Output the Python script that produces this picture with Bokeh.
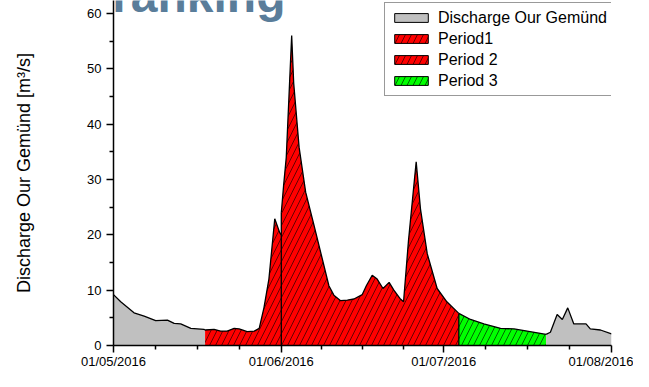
from datetime import datetime
import numpy as np
from bokeh.plotting import figure
from bokeh.models import (Range1d, FixedTicker, DatetimeTickFormatter, Legend,
                          LegendItem, Label, ColumnDataSource)
from bokeh.embed import file_html
from bokeh.resources import INLINE

# ---------------- data ----------------
base1_dates = ["2016-05-01 00:00", "2016-05-02 08:00", "2016-05-04 19:00", "2016-05-06 16:00",
               "2016-05-08 19:00", "2016-05-10 23:00", "2016-05-12 05:00", "2016-05-13 10:00",
               "2016-05-15 07:00", "2016-05-17 17:00", "2016-05-17 22:00"]
base1_vals = [9.2, 7.9, 5.9, 5.3, 4.5, 4.6, 4.0, 3.9, 3.1, 2.9, 2.8]

period1_dates = ["2016-05-17 22:00", "2016-05-19 14:00", "2016-05-20 19:00", "2016-05-22 00:00",
                 "2016-05-23 07:00", "2016-05-24 05:00", "2016-05-25 17:00", "2016-05-27 00:00",
                 "2016-05-27 22:00", "2016-05-28 19:00", "2016-05-29 17:00", "2016-05-30 19:00",
                 "2016-05-31 17:00", "2016-06-01 00:00"]
period1_vals = [2.8, 2.9, 2.6, 2.6, 3.1, 3.0, 2.5, 2.6, 3.1, 6.8, 12.0, 22.9, 20.4, 20.0]

period2_dates = ["2016-06-01 00:00", "2016-06-01 10:00", "2016-06-01 22:00", "2016-06-02 10:00",
                 "2016-06-02 22:00", "2016-06-03 07:00", "2016-06-04 07:00", "2016-06-05 12:00",
                 "2016-06-07 00:00", "2016-06-09 19:00", "2016-06-10 17:00", "2016-06-11 23:00",
                 "2016-06-13 05:00", "2016-06-14 10:00", "2016-06-15 23:00", "2016-06-16 17:00",
                 "2016-06-17 19:00", "2016-06-18 17:00", "2016-06-19 19:00", "2016-06-20 22:00",
                 "2016-06-21 19:00", "2016-06-22 22:00", "2016-06-23 14:00", "2016-06-24 12:00",
                 "2016-06-25 22:00", "2016-06-26 17:00", "2016-06-27 23:00", "2016-06-29 19:00",
                 "2016-07-01 14:00", "2016-07-03 19:00"]
period2_vals = [24.0, 28.8, 34.0, 45.0, 56.0, 47.4, 35.8, 27.7, 21.9, 10.8, 9.1, 8.1,
                8.2, 8.4, 9.2, 10.8, 12.7, 12.0, 10.3, 11.4, 10.0, 8.5, 7.9, 19.0,
                33.2, 24.7, 16.6, 10.3, 7.9, 5.8]

period3_dates = ["2016-07-03 19:00", "2016-07-05 23:00", "2016-07-08 10:00", "2016-07-11 12:00",
                 "2016-07-14 00:00", "2016-07-16 10:00", "2016-07-19 22:00"]
period3_vals = [5.8, 4.7, 3.9, 3.1, 3.0, 2.6, 2.0]

base2_dates = ["2016-07-19 22:00", "2016-07-20 17:00", "2016-07-21 23:00", "2016-07-22 22:00",
               "2016-07-23 22:00", "2016-07-25 01:00", "2016-07-27 07:00", "2016-07-28 02:00",
               "2016-07-29 23:00", "2016-08-01 00:00"]
base2_vals = [2.0, 2.4, 5.6, 4.7, 6.8, 3.9, 3.9, 3.0, 2.8, 2.1]

month_ticks = ["2016-05-01", "2016-06-01", "2016-07-01", "2016-08-01"]
y_ticks = [0, 10, 20, 30, 40, 50, 60]
y_minor = [5, 15, 25, 35, 45, 55]

legend_labels = ["Discharge Our Gemünd", "Period1", "Period 2", "Period 3"]
title_text = "Phase ranking"
y_label = "Discharge Our Gemünd [m³/s]"

# ---------------- helpers ----------------
def to_dt(lst):
    return [datetime.strptime(s, "%Y-%m-%d %H:%M") for s in lst]

def to_ms(s):
    return float((np.datetime64(s) - np.datetime64("1970-01-01")) / np.timedelta64(1, "ms"))

FONT = "Liberation Sans"
GRAY, RED, GREEN = "#c0c0c0", "#ff0000", "#00ff00"
HATCH = dict(hatch_pattern="/", hatch_color="black", hatch_scale=12, hatch_weight=0.6)

W, H = 633, 371
TOP, BOTTOM, LEFT, RIGHT = 0, 25, 113, 22
FRAME_H = H - TOP - BOTTOM
TOP_GAP = 13          # px of free space above the "60" tick, inside the frame (room for title/legend)
y_end = y_ticks[-1] * FRAME_H / (FRAME_H - TOP_GAP)

p = figure(width=W, height=H, x_axis_type="datetime",
           x_range=Range1d(datetime(2016, 5, 1), datetime(2016, 8, 1)),
           y_range=Range1d(y_ticks[0], y_end),
           output_backend="svg", toolbar_location=None,
           min_border_left=LEFT, min_border_right=RIGHT, min_border_top=TOP, min_border_bottom=BOTTOM)
p.xgrid.visible = False
p.ygrid.visible = False
p.outline_line_color = None
p.background_fill_color = "white"

series = [
    (base1_dates, base1_vals, GRAY, False),
    (period1_dates, period1_vals, RED, True),
    (period2_dates, period2_vals, RED, True),
    (period3_dates, period3_vals, GREEN, True),
    (base2_dates, base2_vals, GRAY, False),
]
for d, v, col, hatched in series:
    x = to_dt(d)
    kw = HATCH if hatched else {}
    p.varea(x=x, y1=[0] * len(v), y2=v, fill_color=col, **kw)
    p.line(x=x, y=v, line_color="black", line_width=1.3)

# vertical borders of period 2
p2x = to_dt(period2_dates)
p.segment(x0=[p2x[0], p2x[-1]], y0=[0, 0], x1=[p2x[0], p2x[-1]],
          y1=[period2_vals[0], period2_vals[-1]], line_color="black", line_width=1.3)

# legend proxies (one NaN row each: nothing drawn in the plot)
proxies = []
for col, hatched in [(GRAY, False), (RED, True), (RED, True), (GREEN, True)]:
    src = ColumnDataSource(dict(l=[np.nan], r=[np.nan], t=[np.nan], b=[np.nan]))
    kw = HATCH if hatched else {}
    proxies.append(p.quad(left="l", right="r", top="t", bottom="b", source=src,
                          fill_color=col, line_color="black", line_width=1, **kw))

legend = Legend(items=[LegendItem(label=lab, renderers=[r]) for lab, r in zip(legend_labels, proxies)],
                location=(271, FRAME_H - 97), glyph_width=42, glyph_height=11, label_height=19,
                spacing=2, padding=5, margin=0, label_standoff=6,
                label_text_font=FONT, label_text_font_size="16px", label_text_color="black",
                border_line_color="#333333", border_line_width=1,
                background_fill_color="white", background_fill_alpha=1)
p.add_layout(legend)

# axes
major_ms = [to_ms(m) for m in month_ticks]
minor_ms = []
for a, b in zip(major_ms[:-1], major_ms[1:]):
    minor_ms += [a + (b - a) * k / 4 for k in (1, 2, 3)]
p.xaxis.ticker = FixedTicker(ticks=major_ms, minor_ticks=minor_ms)
fmt = "%d/%m/%Y"
p.xaxis.formatter = DatetimeTickFormatter(milliseconds=fmt, seconds=fmt, minsec=fmt, minutes=fmt,
                                          hourmin=fmt, hours=fmt, days=fmt, months=fmt, years=fmt)
p.yaxis.ticker = FixedTicker(ticks=y_ticks, minor_ticks=y_minor)

for ax in (p.xaxis[0], p.yaxis[0]):
    ax.axis_line_color = "black"
    ax.axis_line_width = 1.5
    ax.major_tick_line_color = "black"
    ax.major_tick_line_width = 1.5
    ax.minor_tick_line_color = "black"
    ax.minor_tick_line_width = 1.5
    ax.major_tick_in = 0
    ax.major_tick_out = 7
    ax.minor_tick_in = 0
    ax.minor_tick_out = 4
    ax.major_label_text_font = FONT
    ax.major_label_text_font_size = "13px"
    ax.major_label_text_color = "black"
p.xaxis.major_label_standoff = 1
p.yaxis.major_label_standoff = 5
p.yaxis.axis_label = y_label
p.yaxis.axis_label_text_font = FONT
p.yaxis.axis_label_text_font_size = "18px"
p.yaxis.axis_label_text_font_style = "normal"
p.yaxis.axis_label_text_color = "black"
p.yaxis.axis_label_standoff = 50

# partially visible title (only its lower part shows, as in the reference)
p.add_layout(Label(x=172, y=FRAME_H + 4, x_units="screen", y_units="screen", text=title_text,
                   text_align="right", text_baseline="alphabetic",
                   text_font=FONT, text_font_size="48px", text_font_style="bold",
                   text_color="#5a7d9a"))

open("out.html", "w").write(file_html(p, INLINE))
